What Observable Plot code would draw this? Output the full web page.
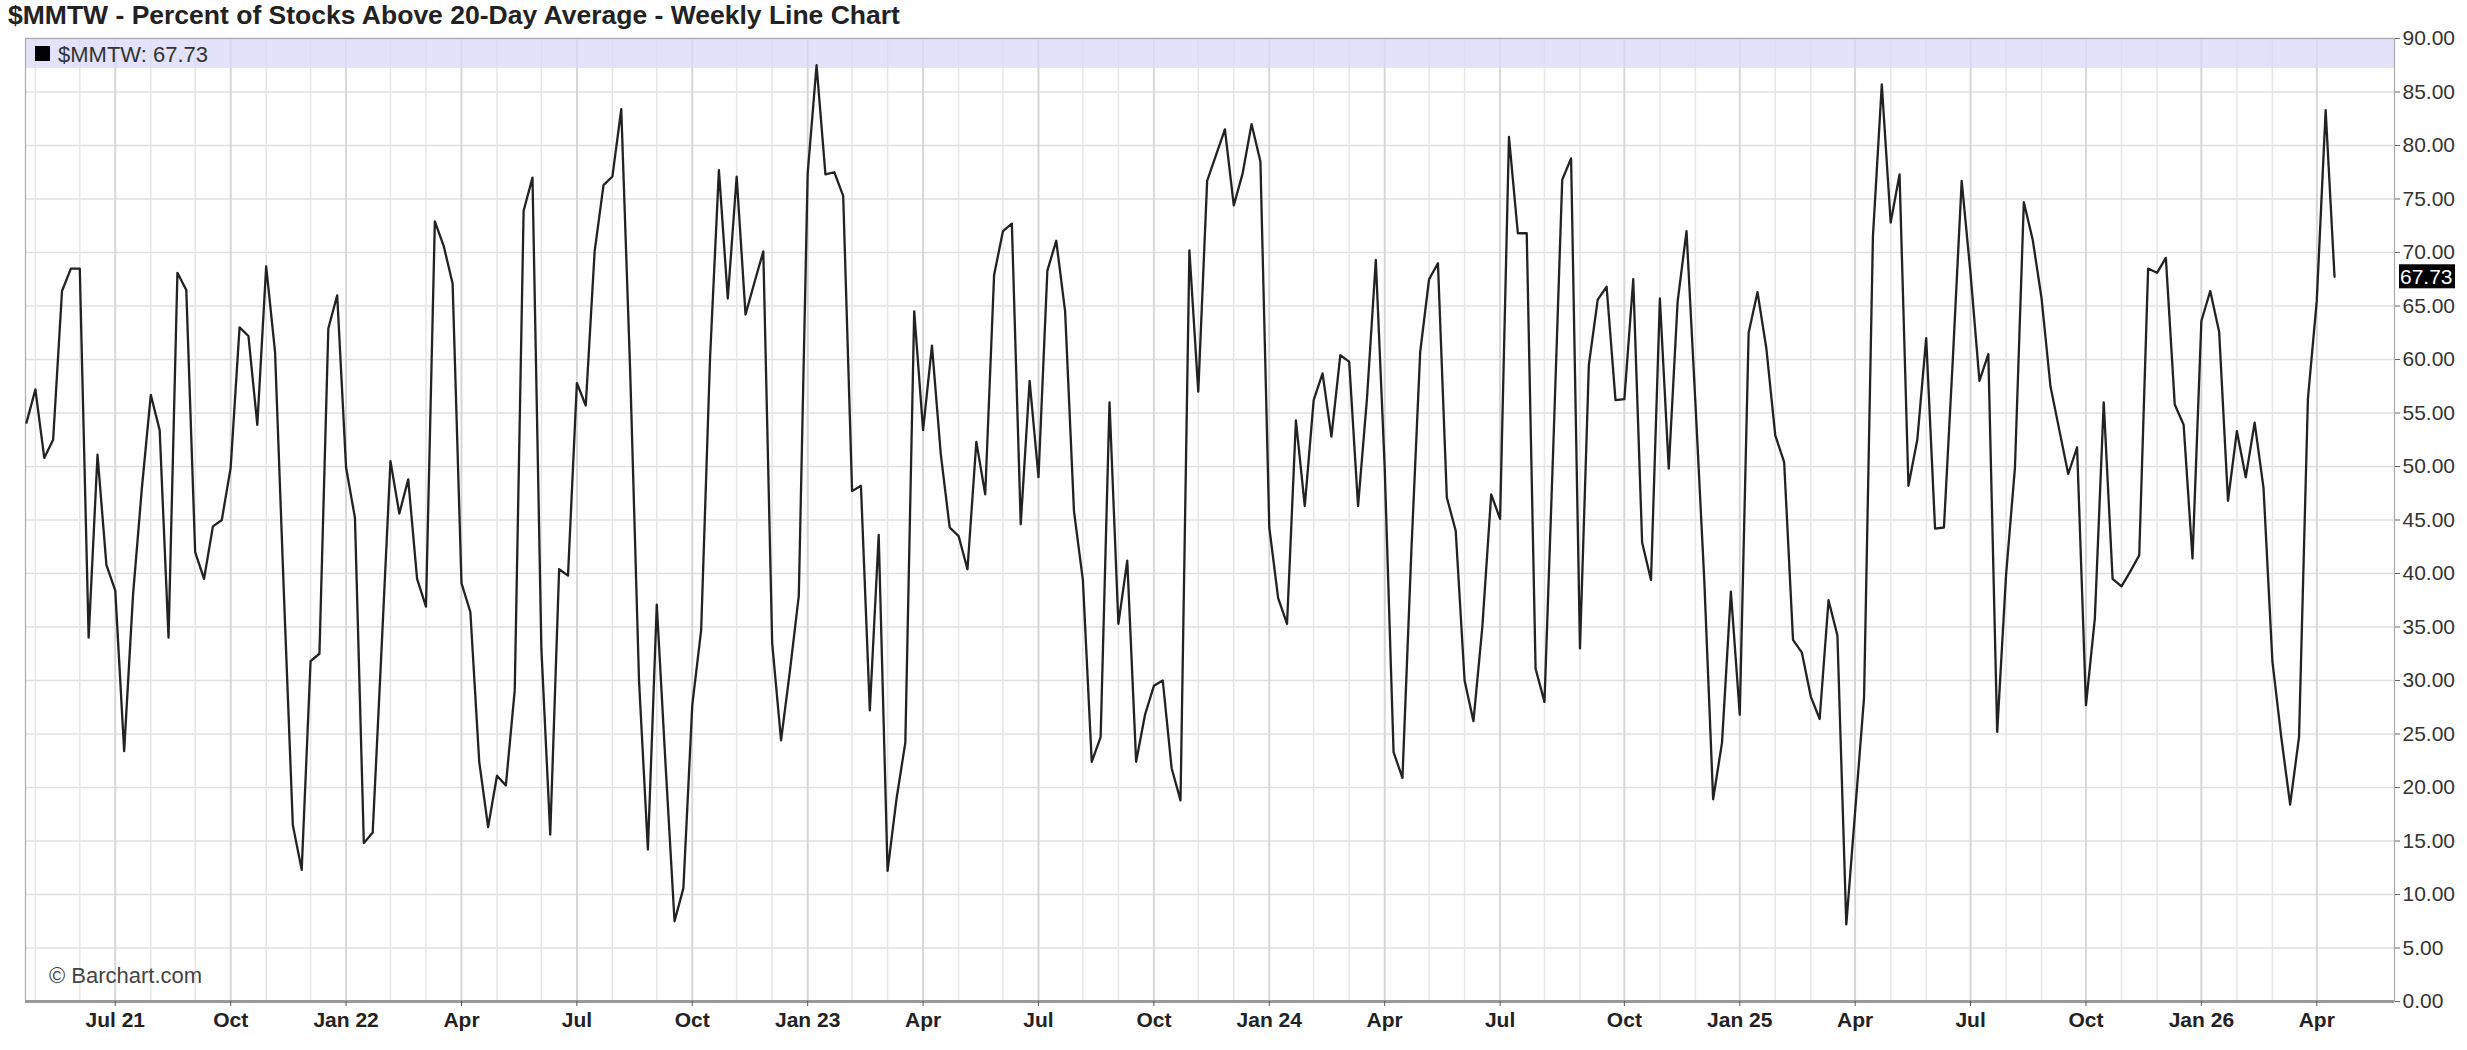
<!DOCTYPE html>
<html><head><meta charset="utf-8">
<script src="https://cdn.jsdelivr.net/npm/d3@7"></script>
<script src="https://cdn.jsdelivr.net/npm/@observablehq/plot@0.6"></script>
<style>
body{margin:0;background:#fff;font-family:"Liberation Sans",Arial,sans-serif;position:relative;}
#title{position:absolute;left:0;top:0;height:30px;line-height:30px;font-size:26.5px;font-weight:bold;color:#222;padding-left:8px;white-space:nowrap;z-index:2;}
#chart svg{display:block;}
</style></head><body>
<div id="chart"></div>
<div id="title">$MMTW - Percent of Stocks Above 20-Day Average - Weekly Line Chart</div>
<script>
const symbol = "$MMTW";
const firstWeek = "2021-04-26";
const lastWeek = "2026-04-20";
const v2021 = [54.1,57.2,50.8,52.5,66.4,68.5,68.5,34.0,51.1,40.8,38.4,23.4,38,48,56.7,53.4,34.0,68.1,66.5,42.0,39.5,44.4,45.0,49.9,63.0,62.2,53.9,68.7,60.7,38,16.5,12.3,31.8,32.5,62.9,66.0];
const v2022 = [49.9,45.2,14.8,15.8,33,50.5,45.6,48.8,39.5,36.9,72.9,70.6,67.1,39.1,36.4,22.4,16.3,21.1,20.2,29.1,73.9,77.0,33,15.6,40.4,39.8,57.8,55.7,70.1,76.3,77.1,83.4,59,30,14.2,37.1,22,7.5,10.6,27.7,34.7,60.1,77.7,65.7,77.1,64.2,67.2,70.1,33.5,24.4,30.9,37.9];
const v2023 = [77.4,87.5,77.3,77.5,75.3,47.7,48.2,27.2,43.6,12.2,18.9,24.2,64.5,53.4,61.3,51.1,44.3,43.5,40.4,52.3,47.4,67.9,72.0,72.7,44.6,58.0,49.0,68.3,71.1,64.5,45.8,39.4,22.4,24.7,56.0,35.3,41.2,22.4,26.8,29.5,30.0,21.8,18.8,70.2,57.0,76.7,79.1,81.5,74.4,77.4,82.0,78.5];
const v2024 = [44.3,37.7,35.3,54.3,46.3,56.2,58.7,52.8,60.4,59.8,46.3,56.3,69.3,49.9,23.3,20.9,42,60.7,67.5,69.0,47.1,44.0,30.0,26.2,35.0,47.4,45.1,80.8,71.8,71.8,31.1,28.0,52,76.8,78.8,33.0,59.5,65.6,66.8,56.2,56.3,67.5,42.9,39.4,65.7,49.8,65.4,72.0,56,39.4,18.9,24.2,38.3];
const v2025 = [26.8,62.5,66.3,61.0,52.9,50.4,33.8,32.6,28.5,26.4,37.5,34.2,7.2,17.8,28.4,71.5,85.7,72.8,77.3,48.2,52.5,62.0,44.2,44.3,60,76.7,68,58.0,60.5,25.2,39.9,49.9,74.7,71.2,65.7,57.5,53.4,49.3,51.8,27.7,35.8,56.0,39.5,38.8,40.2,41.7,68.5,68.1,69.5,55.8,53.9,41.4];
const v2026 = [63.6,66.4,62.6,46.8,53.3,49.0,54.1,48.0,31.8,24.7,18.4,24.7,56.3,65.5,83.3,67.73];
const yTicks = [0,5,10,15,20,25,30,35,40,45,50,55,60,65,70,75,80,85,90];
const quarterMonths = ["2021-07","2021-10","2022-01","2022-04","2022-07","2022-10","2023-01","2023-04","2023-07","2023-10","2024-01","2024-04","2024-07","2024-10","2025-01","2025-04","2025-07","2025-10","2026-01","2026-04"];
const quarterLabels = ["Jul 21","Oct","Jan 22","Apr","Jul","Oct","Jan 23","Apr","Jul","Oct","Jan 24","Apr","Jul","Oct","Jan 25","Apr","Jul","Oct","Jan 26","Apr"];
const gridStart = "2021-05-01";
const gridEnd = "2026-05-01";

const values = [...v2021, ...v2022, ...v2023, ...v2024, ...v2025, ...v2026];
const dates = d3.utcMonday.range(new Date(firstWeek), d3.utcDay.offset(new Date(lastWeek), 1));
const data = dates.map((d, i) => ({date: d, value: values[i]}));
const last = data[data.length - 1];
const monthLines = d3.utcMonth.range(new Date(gridStart), new Date(gridEnd)).map(m => d3.utcMonday.ceil(m));
const quarterTicks = quarterMonths.map(s => d3.utcMonday.ceil(new Date(s + "-01")));
const labelOf = new Map(quarterTicks.map((d, i) => [+d, quarterLabels[i]]));

const FONT = "'Liberation Sans', Arial, sans-serif";

function legendBand(index, scales, values, dims) {
  const g = d3.create("svg:g");
  const x0 = dims.marginLeft, w = dims.width - dims.marginLeft - dims.marginRight;
  g.append("rect").attr("x", x0).attr("y", dims.marginTop).attr("width", w).attr("height", 30)
    .attr("fill", "#d8d8f8").attr("fill-opacity", 0.75);
  return g.node();
}
function legendText(index, scales, values, dims) {
  const g = d3.create("svg:g");
  const x0 = dims.marginLeft;
  g.append("rect").attr("x", x0 + 10).attr("y", dims.marginTop + 8).attr("width", 15).attr("height", 15).attr("fill", "#000");
  g.append("text").attr("x", x0 + 33).attr("y", dims.marginTop + 16).attr("dy", "0.35em")
    .attr("text-anchor", "start")
    .attr("font-family", FONT).attr("font-size", 22).attr("fill", "#333")
    .text(`${symbol}: ${last.value.toFixed(2)}`);
  return g.node();
}
function credit(index, scales, values, dims) {
  const g = d3.create("svg:g");
  g.append("text").attr("x", dims.marginLeft + 24).attr("y", dims.height - dims.marginBottom - 26).attr("dy", "0.35em")
    .attr("text-anchor", "start")
    .attr("font-family", FONT).attr("font-size", 22).attr("fill", "#444").text("\u00a9 Barchart.com");
  return g.node();
}
function lastBox(index, scales, values, dims) {
  const g = d3.create("svg:g");
  const y = scales.y(last.value);
  const x = dims.width - dims.marginRight + 5;
  g.append("rect").attr("x", x).attr("y", y - 12).attr("width", 56).attr("height", 24).attr("fill", "#000");
  g.append("text").attr("x", x + 1).attr("y", y).attr("dy", "0.36em")
    .attr("text-anchor", "start")
    .attr("font-family", FONT).attr("font-size", 21).attr("fill", "#fff").text(last.value.toFixed(2));
  return g.node();
}

const chart = Plot.plot({
  width: 2467,
  height: 1050,
  marginTop: 38,
  marginBottom: 49,
  marginLeft: 25,
  marginRight: 73,
  style: {fontFamily: FONT, background: "#fff"},
  x: {type: "utc", domain: [new Date("2021-04-25T05:00:00Z"), new Date("2026-06-06T07:00:00Z")]},
  y: {domain: [0, 90]},
  marks: [
    Plot.ruleY(yTicks, {stroke: "#e0e0e0", strokeWidth: 1.5}),
    Plot.ruleX(monthLines, {stroke: "#e6e6e6", strokeWidth: 1.5}),
    Plot.ruleX(quarterTicks, {stroke: "#d6d6d6", strokeWidth: 1.8}),
    legendBand,
    Plot.frame({stroke: "#aaa", strokeWidth: 1.2}),
    Plot.ruleY([0], {stroke: "#999", strokeWidth: 3}),
    Plot.line(data, {x: "date", y: "value", stroke: "#222", strokeWidth: 2.3}),
    legendText,
    Plot.axisY(yTicks, {anchor: "right", label: null, tickSize: 5, tickPadding: 3, textAnchor: "start", fontSize: 21, fill: "#333", stroke: "#666", tickFormat: d => d.toFixed(2)}),
    Plot.axisX(quarterTicks, {anchor: "bottom", label: null, tickSize: 5, tickPadding: 6, fontSize: 21, fontWeight: "bold", fill: "#222", stroke: "#555", tickFormat: d => labelOf.get(+d)}),
    credit,
    lastBox
  ]
});
document.getElementById("chart").append(chart);
</script>
</body></html>
